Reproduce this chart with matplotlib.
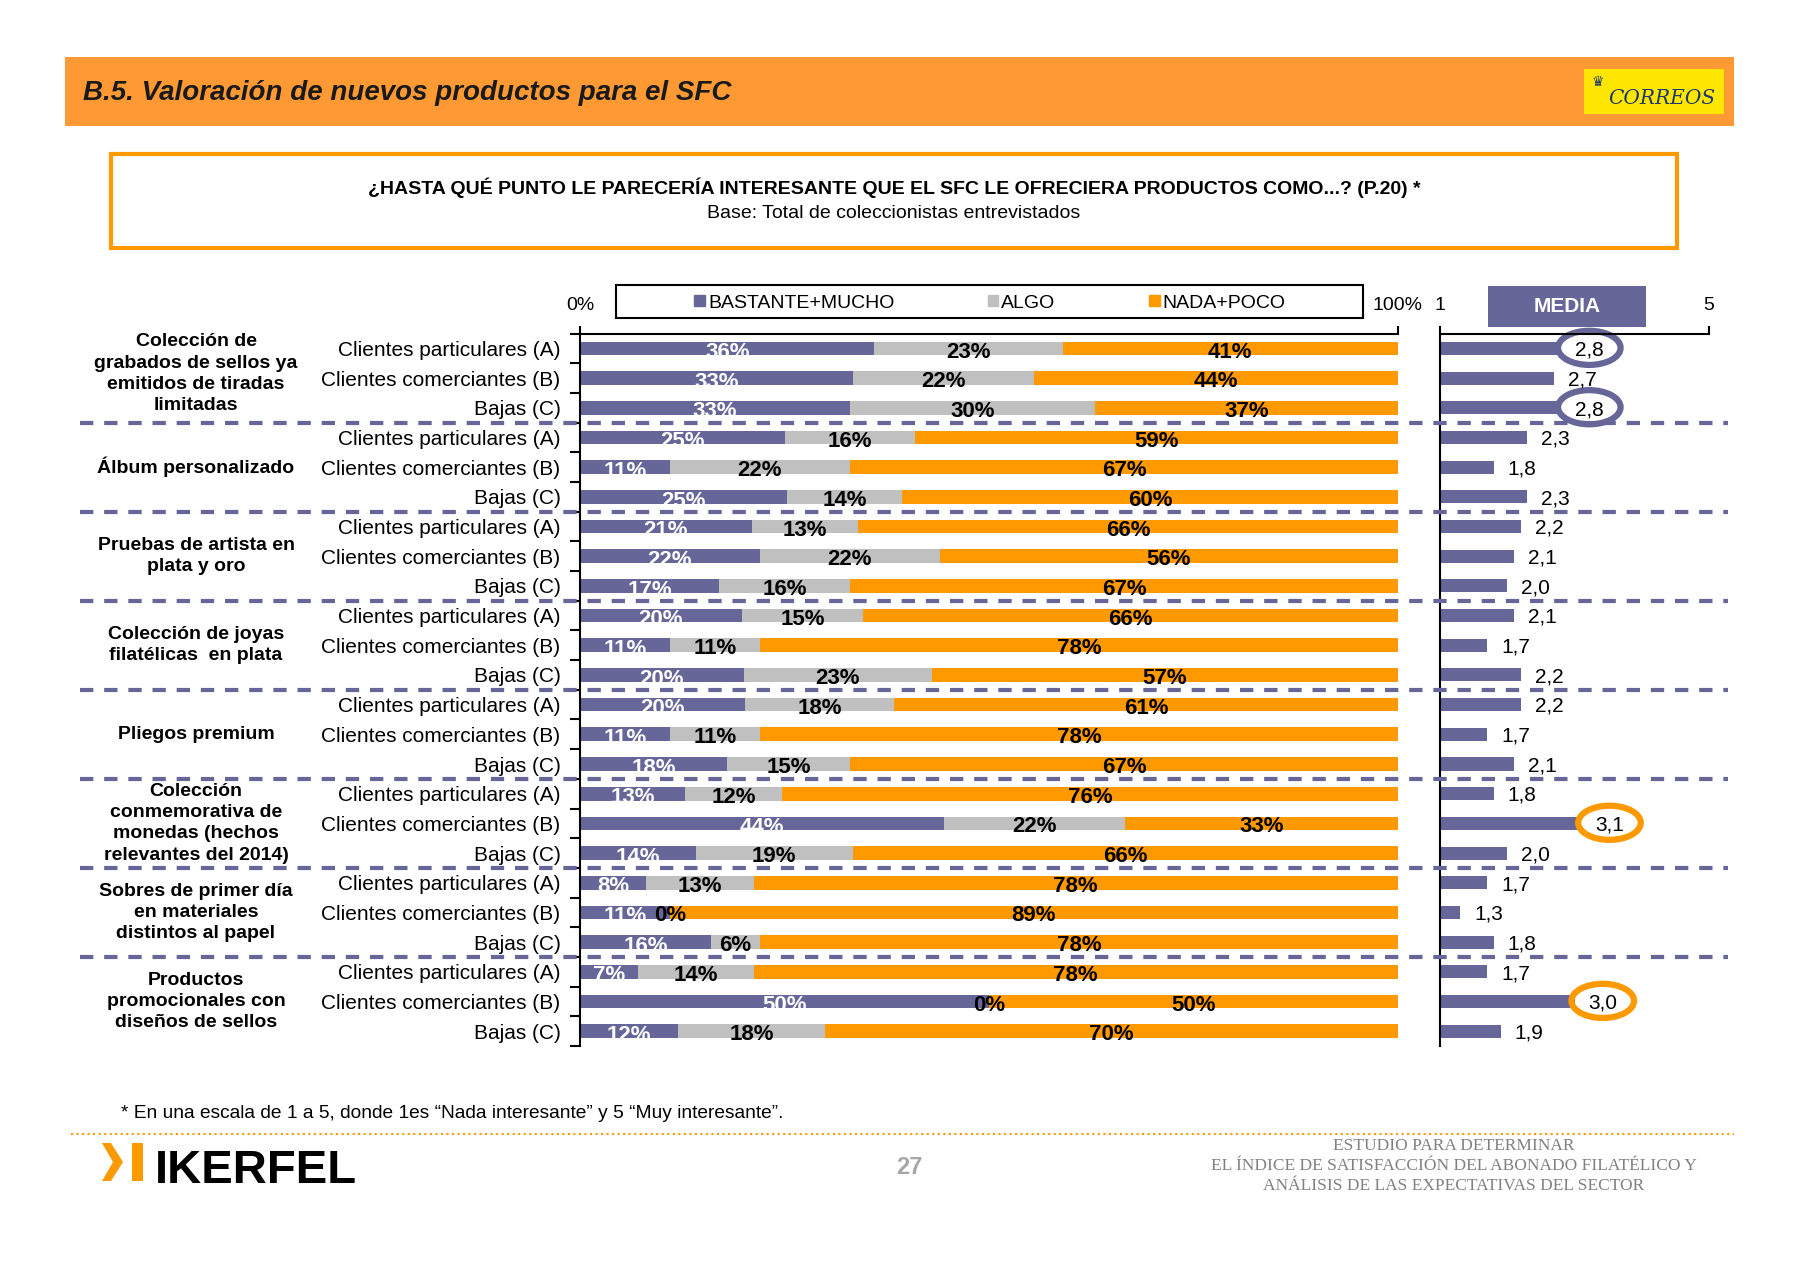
import matplotlib
matplotlib.use('Agg')
import matplotlib.pyplot as plt
import matplotlib.transforms as mtransforms
from matplotlib import font_manager
from matplotlib.patches import Rectangle, Ellipse, Polygon
from matplotlib.lines import Line2D
import numpy as np

# datos del gráfico
grupos = [
    'Colección de\ngrabados de sellos ya\nemitidos de tiradas\nlimitadas',
    'Álbum personalizado',
    'Pruebas de artista en\nplata y oro',
    'Colección de joyas\nfilatélicas  en plata',
    'Pliegos premium',
    'Colección\nconmemorativa de\nmonedas (hechos\nrelevantes del 2014)',
    'Sobres de primer día\nen materiales\ndistintos al papel',
    'Productos\npromocionales con\ndiseños de sellos',
]
segmentos = ['Clientes particulares (A)', 'Clientes comerciantes (B)', 'Bajas (C)']
bastante = [36, 33, 33, 25, 11, 25, 21, 22, 17, 20, 11, 20, 20, 11, 18, 13, 44, 14, 8, 11, 16, 7, 50, 12]
algo = [23, 22, 30, 16, 22, 14, 13, 22, 16, 15, 11, 23, 18, 11, 15, 12, 22, 19, 13, 0, 6, 14, 0, 18]
nada = [41, 44, 37, 59, 67, 60, 66, 56, 67, 66, 78, 57, 61, 78, 67, 76, 33, 66, 78, 89, 78, 78, 50, 70]
media = [2.8, 2.7, 2.8, 2.3, 1.8, 2.3, 2.2, 2.1, 2.0, 2.1, 1.7, 2.2, 2.2, 1.7, 2.1, 1.8, 3.1, 2.0, 1.7, 1.3, 1.8, 1.7, 3.0, 1.9]
destacados_morado = [0, 2]
destacados_naranja = [16, 22]
leyenda = ['BASTANTE+MUCHO', 'ALGO', 'NADA+POCO']

MORADO = '#666699'
GRIS = '#C0C0C0'
NARANJA = '#FF9900'

plt.rcParams['font.family'] = ['Liberation Sans', 'DejaVu Sans']
nombres = {f.name for f in font_manager.fontManager.ttflist}
ESTRECHA = 'Liberation Sans Narrow' if 'Liberation Sans Narrow' in nombres else 'Liberation Sans'

W, H = 1800, 1261
fig = plt.figure(figsize=(18, 12.61), dpi=100)
# coordenadas en pixeles desde arriba a la izquierda
px = mtransforms.Affine2D().scale(1 / W, -1 / H).translate(0, 1) + fig.transFigure


def caja(x0, y0, x1, y1):
    return [x0 / W, 1 - y1 / H, (x1 - x0) / W, (y1 - y0) / H]


# --- cabecera ---
fig.add_artist(Rectangle((65, 57), 1669, 69, transform=px, fc='#FF9933', ec='none'))
fig.text(83, 93, 'B.5. Valoración de nuevos productos para el SFC', transform=px,
         ha='left', va='center', fontsize=20, fontweight='bold', fontstyle='italic', color='#1a1a1a')
fig.add_artist(Rectangle((1584, 69), 140, 45, transform=px, fc='#FFE600', ec='none'))
fig.text(1662, 99, 'CORREOS', transform=px, ha='center', va='center', fontsize=14.5,
         fontstyle='italic', color='#1d3770', family=['DejaVu Serif'])
fig.text(1598, 82, '♛', transform=px, ha='center', va='center', fontsize=10, color='#1d3770',
         family=['DejaVu Sans'])

fig.add_artist(Rectangle((111, 154), 1566, 94, transform=px, fc='white', ec=NARANJA, lw=3))
fig.text(894, 188, '¿HASTA QUÉ PUNTO LE PARECERÍA INTERESANTE QUE EL SFC LE OFRECIERA PRODUCTOS COMO...? (P.20) *',
         transform=px, ha='center', va='center', fontsize=14, fontweight='bold')
fig.text(894, 213, 'Base: Total de coleccionistas entrevistados', transform=px,
         ha='center', va='center', fontsize=14)

# --- barras apiladas ---
n = len(media)
y = np.arange(n)
b = np.array(bastante, float)
a = np.array(algo, float)
c = np.array(nada, float)
tot = b + a + c
bp, ap, cp = b / tot * 100, a / tot * 100, c / tot * 100

ax = fig.add_axes(caja(580, 333.6, 1398, 1046))
alto = 0.46
ax.barh(y, bp, height=alto, color=MORADO)
ax.barh(y, ap, left=bp, height=alto, color=GRIS)
ax.barh(y, cp, left=bp + ap, height=alto, color=NARANJA)
ax.set_xlim(0, 100)
ax.set_ylim(n - 0.5, -0.5)

etq = dict(ha='center', va='center', fontsize=16, fontweight='bold', family=[ESTRECHA, 'Liberation Sans'])
for i in range(n):
    ax.text(bp[i] / 2, i + 0.14, f'{bastante[i]}%', color='white', **etq)
    ax.text(bp[i] + ap[i] / 2, i + 0.12, f'{algo[i]}%', color='black', **etq)
    ax.text(bp[i] + ap[i] + cp[i] / 2, i + 0.12, f'{nada[i]}%', color='black', **etq)

for s in ['right', 'bottom']:
    ax.spines[s].set_visible(False)
for s in ['top', 'left']:
    ax.spines[s].set_linewidth(1.5)
ax.xaxis.tick_top()
ax.set_xticks([0, 100], ['0%', '100%'])
ax.tick_params(axis='x', length=6, width=1.5, pad=8, labelsize=14)
ax.set_yticks(y, [segmentos[i % len(segmentos)] for i in y])
ax.set_yticks(np.arange(-0.5, n), minor=True)
ax.tick_params(axis='y', which='major', length=0, pad=14, labelsize=15)
ax.tick_params(axis='y', which='minor', length=7, width=1.5)

# etiquetas de grupo y separadores
mezcla = mtransforms.blended_transform_factory(fig.transFigure, ax.transData)
k = len(segmentos)
for g, nombre in enumerate(grupos):
    centro = g * k + (k - 1) / 2 - (0.15 if g == 0 else 0)
    ax.text(196 / W, centro, nombre, transform=mezcla, ha='center', va='center',
            fontsize=14, fontweight='bold', linespacing=1.32, multialignment='center')
for g in range(1, len(grupos)):
    fig.add_artist(Line2D([80 / W, 1728 / W], [g * k - 0.5] * 2, transform=mezcla,
                          color=MORADO, lw=3, linestyle=(0, (3.2, 2.6))))

# leyenda
manejadores = [Rectangle((0, 0), 1, 1, color=col) for col in (MORADO, GRIS, NARANJA)]
fig.legend(manejadores, leyenda, ncol=3, loc='center', bbox_to_anchor=(990 / W, 1 - 303 / H),
           frameon=False, fontsize=14, handlelength=0.55, handleheight=0.55, handletextpad=0.15,
           columnspacing=4.8)
fig.add_artist(Rectangle((616, 285), 747, 33, transform=px, fill=False, ec='black', lw=1.5))

# --- media ---
axm = fig.add_axes(caja(1440, 333.6, 1709, 1046))
axm.barh(y, [m - 1 for m in media], left=1, height=0.44, color=MORADO)
axm.set_xlim(1, 5)
axm.set_ylim(n - 0.5, -0.5)
for s in ['right', 'bottom']:
    axm.spines[s].set_visible(False)
for s in ['top', 'left']:
    axm.spines[s].set_linewidth(1.5)
axm.xaxis.tick_top()
axm.set_xticks([1, 5], ['1', '5'])
axm.tick_params(axis='x', length=6, width=1.5, pad=8, labelsize=14)
axm.set_yticks([])
for i, m in enumerate(media):
    axm.text(m + 0.42, i + 0.06, f'{m:.1f}'.replace('.', ','), ha='center', va='center', fontsize=15)
for filas, col in ((destacados_morado, MORADO), (destacados_naranja, NARANJA)):
    for i in filas:
        axm.add_patch(Ellipse((media[i] + 0.42, i - 0.02), 0.93, 1.15, fill=False, ec=col,
                              lw=4.5, clip_on=False))

fig.add_artist(Rectangle((1488, 286), 158, 41, transform=px, fc=MORADO, ec='none'))
fig.text(1567, 307, 'MEDIA', transform=px, ha='center', va='center', fontsize=15,
         fontweight='bold', color='white')

# --- pie ---
fig.text(121, 1114, '* En una escala de 1 a 5, donde 1es “Nada interesante” y 5 “Muy interesante”.',
         transform=px, ha='left', va='center', fontsize=13.8)
fig.add_artist(Line2D([71, 1734], [1134, 1134], transform=px, color=NARANJA, lw=1.5, linestyle=':'))

fig.add_artist(Polygon([(102, 1143), (111, 1143), (123, 1162), (111, 1181), (102, 1181), (113, 1162)],
                       closed=True, transform=px, fc=NARANJA, ec='none'))
fig.add_artist(Rectangle((132, 1143), 11, 38, transform=px, fc=NARANJA, ec='none'))
fig.text(155, 1183, 'IKERFEL', transform=px, ha='left', va='baseline', fontsize=34,
         fontweight='bold', family=[ESTRECHA, 'Liberation Sans'], color='black')

fig.text(909, 1167, '27', transform=px, ha='center', va='center', fontsize=17,
         fontweight='bold', color='#a6a6a6')
pie_der = 'ESTUDIO PARA DETERMINAR\nEL ÍNDICE DE SATISFACCIÓN DEL ABONADO FILATÉLICO Y\nANÁLISIS DE LAS EXPECTATIVAS DEL SECTOR'
fig.text(1454, 1166, pie_der, transform=px, ha='center', va='center', fontsize=12.5,
         family=['Liberation Serif'], color='#808080', linespacing=1.3)

fig.savefig('out.png', dpi=100, facecolor='white')
